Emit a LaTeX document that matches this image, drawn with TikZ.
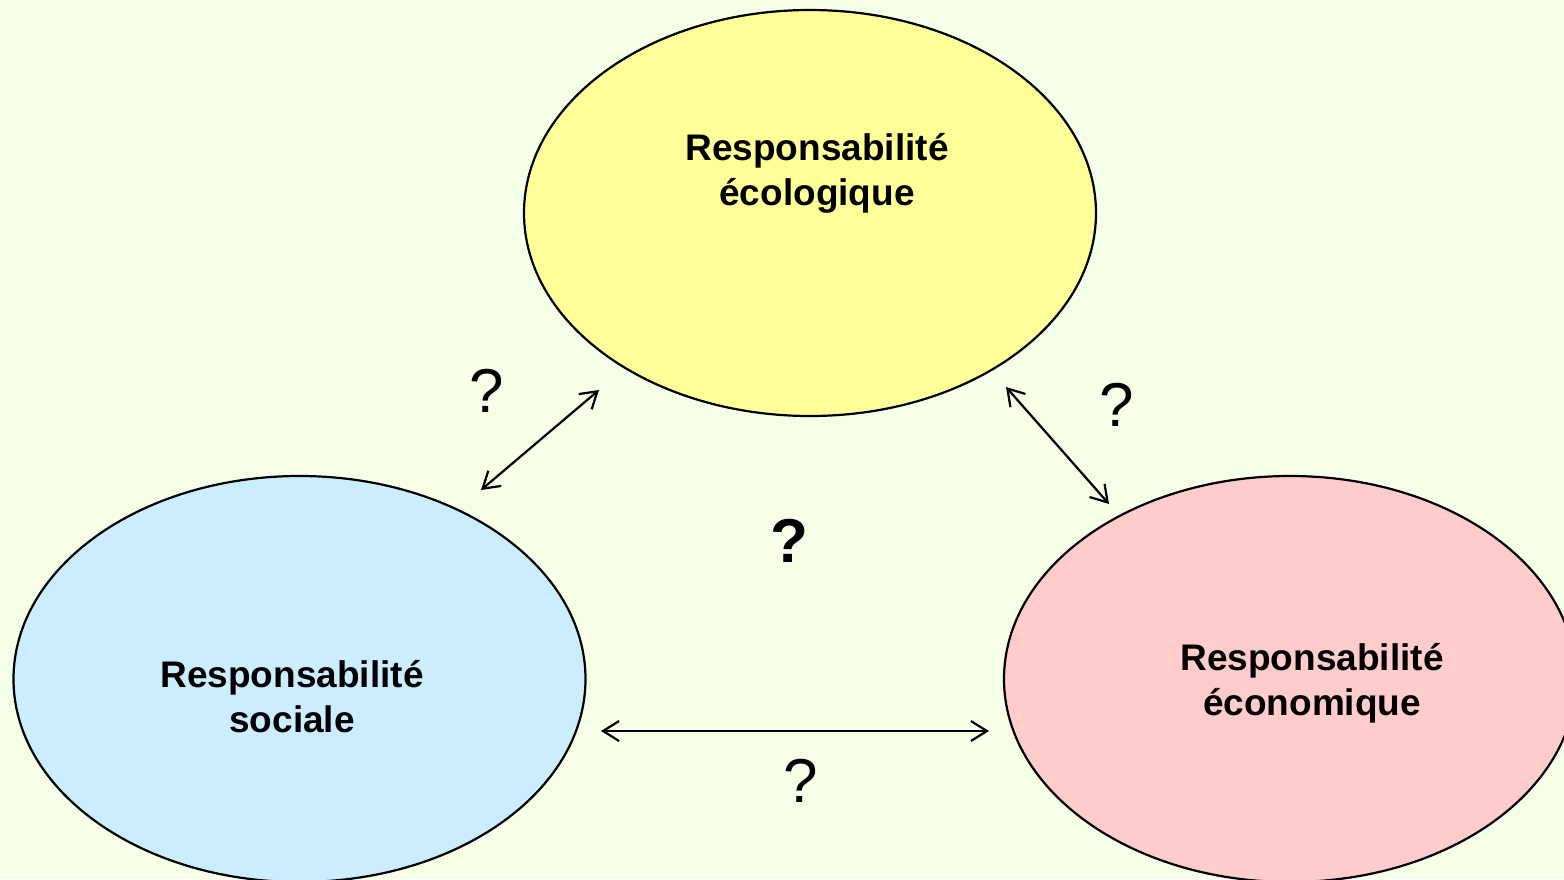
\documentclass[tikz,border=0pt]{standalone}
\usepackage{fontspec}
\setmainfont{Liberation Sans}
\usetikzlibrary{shapes.geometric,arrows.meta}
\definecolor{bg}{RGB}{245,255,232}
\definecolor{ecol}{RGB}{255,255,153}
\definecolor{scol}{RGB}{204,236,255}
\definecolor{pcol}{RGB}{255,204,204}
\begin{document}
\begin{tikzpicture}[x=0.5pt,y=-0.5pt,
  blob/.style={ellipse,draw=black,line width=1.1pt,inner sep=0pt},
  lbl/.style={font=\bfseries\fontsize{18.5}{22.5}\selectfont,align=center,inner sep=0pt},
  qm/.style={font=\fontsize{31}{31}\selectfont,inner sep=0pt},
  link/.style={line width=1.1pt,{Straight Barb[length=8pt,width=10pt,line width=1.1pt]}-{Straight Barb[length=8pt,width=10pt,line width=1.1pt]}}]
\fill[bg] (0,0) rectangle (1564,879);
\useasboundingbox (0,0) rectangle (1564,879);
\node[blob,fill=ecol,minimum width=286pt,minimum height=203pt] (eco) at (810,213) {};
\node[blob,fill=scol,minimum width=286pt,minimum height=203pt] (soc) at (299.5,679) {};
\node[blob,fill=pcol,minimum width=286pt,minimum height=203pt] (econ) at (1290,679) {};
\node[lbl] (teco) at (817,173) {Responsabilité\\écologique};
\node[lbl] (tsoc) at (292,697) {Responsabilité\\sociale};
\node[lbl] (tecon) at (1312,683) {Responsabilité\\économique};
\coordinate (a1s) at (481,490);
\coordinate (a1e) at (599,390);
\coordinate (a2s) at (1006,387);
\coordinate (a2e) at (1109,504);
\coordinate (a3s) at (601,731);
\coordinate (a3e) at (989,731);
\draw[link] (a1s) -- (a1e);
\draw[link] (a2s) -- (a2e);
\draw[link] (a3s) -- (a3e);
\node[qm] (q1) at (487,391) {?};
\node[qm] (q2) at (1117,405) {?};
\node[qm] (q3) at (801,781) {?};
\node[qm,font=\bfseries\fontsize{31}{31}\selectfont] (q4) at (789,541) {?};
\end{tikzpicture}
\end{document}
